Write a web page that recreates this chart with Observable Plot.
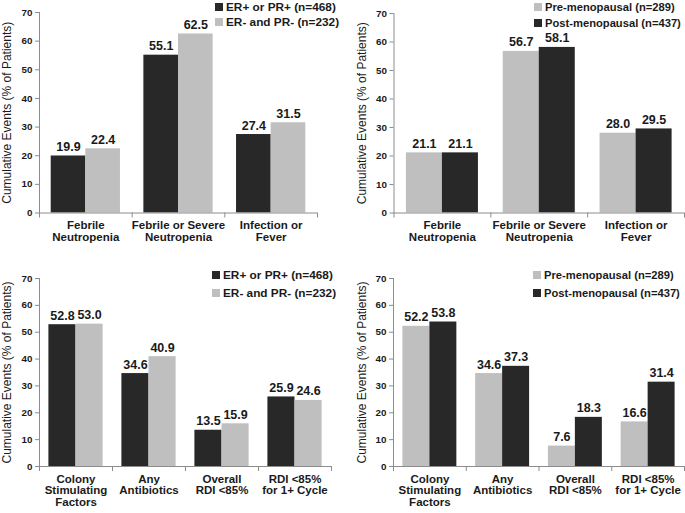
<!DOCTYPE html>
<html><head><meta charset="utf-8">
<script src="https://cdn.jsdelivr.net/npm/d3@7"></script>
<script src="https://cdn.jsdelivr.net/npm/@observablehq/plot@0.6"></script>
<style>
body{margin:0;background:#fff;}
#chart{position:relative;width:685px;height:513px;font-family:"Liberation Sans",Arial,sans-serif;color:#1a1a1a;background:#fff;}
.panel{position:absolute;}
.lrow{position:absolute;display:flex;align-items:center;white-space:nowrap;height:14px;font-weight:bold;line-height:14px;}
.sw{width:8px;height:8px;margin-right:3px;flex:none;}
</style></head><body><div id="chart"></div>
<script>
// ---- data ----
const topCategories = ["Febrile\nNeutropenia", "Febrile or Severe\nNeutropenia", "Infection or\nFever"];
const bottomCategories = ["Colony\nStimulating\nFactors", "Any\nAntibiotics", "Overall\nRDI <85%", "RDI <85%\nfor 1+ Cycle"];
const hormoneSeries = ["ER+ or PR+ (n=468)", "ER- and PR- (n=232)"];
const menoSeries = ["Pre-menopausal (n=289)", "Post-menopausal (n=437)"];
const topHormonePos = [19.9, 55.1, 27.4];
const topHormoneNeg = [22.4, 62.5, 31.5];
const topPre = [21.1, 56.7, 28.0];
const topPost = [21.1, 58.1, 29.5];
const bottomHormonePos = [52.8, 34.6, 13.5, 25.9];
const bottomHormoneNeg = [53.0, 40.9, 15.9, 24.6];
const bottomPre = [52.2, 34.6, 7.6, 16.6];
const bottomPost = [53.8, 37.3, 18.3, 31.4];
const yTicks = [0, 10, 20, 30, 40, 50, 60, 70];
const yDomain = [0, 70];
const yTitle = "Cumulative Events (% of Patients)";

const DARK = "#282828", LIGHT = "#bfbfbf", AXIS = "#8c8c8c", TEXT = "#1a1a1a";
const chart = document.getElementById("chart");

function panel(cfg) {
  const {left, top, width, height, ml, mr, mt, mb, pad, labelOffset, cats, series, values, colors, legend} = cfg;
  const n = cats.length;
  const band = (width - ml - mr) / n;
  const w = (band - 2 * pad) / 2;
  const marks = [];
  series.forEach((s, i) => {
    const data = cats.map((c, j) => ({cat: c, series: s, value: values[i][j]}));
    marks.push(Plot.barY(data, {x: "cat", y: "value", fill: colors[i],
      insetLeft: pad + i * w, insetRight: band - pad - (i + 1) * w}));
    marks.push(Plot.text(data, {x: "cat", y: "value", text: d => d.value.toFixed(1),
      dx: -band / 2 + pad + (i + 0.5) * w, dy: -9, fontSize: 12.5, fontWeight: "bold", fill: TEXT}));
  });
  marks.push(
    Plot.ruleY([0], {stroke: AXIS}),
    Plot.frame({anchor: "left", stroke: AXIS}),
    Plot.axisY({ticks: yTicks, tickSize: 4, tickPadding: 3, fontSize: 9.8, fontWeight: "bold", label: null, stroke: AXIS, fill: TEXT}),
    Plot.axisY({ticks: [], label: yTitle, labelAnchor: "center", labelOffset, labelArrow: "none", fontSize: 12, fill: TEXT}),
    Plot.axisX({ticks: cats, tickSize: 0, tickPadding: 8, fontSize: 11.5, fontWeight: "bold", label: null, fill: TEXT}),
    Plot.axisX({ticks: cats, tickSize: 5, tickFormat: () => "", dx: -band / 2, stroke: AXIS, label: null}),
    Plot.axisX({ticks: [cats[n - 1]], tickSize: 5, tickFormat: () => "", dx: band / 2, stroke: AXIS, label: null})
  );
  const svg = Plot.plot({
    width, height, marginLeft: ml, marginRight: mr, marginTop: mt, marginBottom: mb,
    style: {fontFamily: '"Liberation Sans", Arial, sans-serif', background: "transparent", color: TEXT, overflow: "visible"},
    x: {domain: cats, padding: 0, round: false},
    y: {domain: yDomain},
    marks
  });
  const div = document.createElement("div");
  div.className = "panel";
  div.style.left = left + "px";
  div.style.top = top + "px";
  div.appendChild(svg);
  chart.appendChild(div);
  series.forEach((s, i) => {
    const row = document.createElement("div");
    row.className = "lrow";
    row.style.left = legend.x + "px";
    row.style.top = (legend.ys[i] - 7) + "px";
    row.style.fontSize = legend.size + "px";
    const sw = document.createElement("span");
    sw.className = "sw";
    sw.style.background = colors[i];
    const t = document.createElement("span");
    t.textContent = s;
    row.appendChild(sw);
    row.appendChild(t);
    chart.appendChild(row);
  });
}

panel({left: 0, top: 0, width: 340, height: 250, ml: 39, mr: 23, mt: 12, mb: 37.5, pad: 11.7, labelOffset: 37,
  cats: topCategories, series: hormoneSeries, values: [topHormonePos, topHormoneNeg], colors: [DARK, LIGHT],
  legend: {x: 215, ys: [7, 22], size: 11.8}});
panel({left: 340, top: 0, width: 345, height: 250, ml: 53.5, mr: 1, mt: 13, mb: 37.5, pad: 12.4, labelOffset: 37,
  cats: topCategories, series: menoSeries, values: [topPre, topPost], colors: [LIGHT, DARK],
  legend: {x: 534, ys: [6.5, 23], size: 11.2}});
panel({left: 0, top: 250, width: 340, height: 263, ml: 39, mr: 9, mt: 28, mb: 47, pad: 9.4, labelOffset: 37,
  cats: bottomCategories, series: hormoneSeries, values: [bottomHormonePos, bottomHormoneNeg], colors: [DARK, LIGHT],
  legend: {x: 212, ys: [275, 293], size: 11.8}});
panel({left: 340, top: 250, width: 345, height: 263, ml: 53, mr: 1, mt: 28, mb: 47, pad: 9.4, labelOffset: 36,
  cats: bottomCategories, series: menoSeries, values: [bottomPre, bottomPost], colors: [LIGHT, DARK],
  legend: {x: 533, ys: [275, 292.7], size: 11.2}});
</script></body></html>
